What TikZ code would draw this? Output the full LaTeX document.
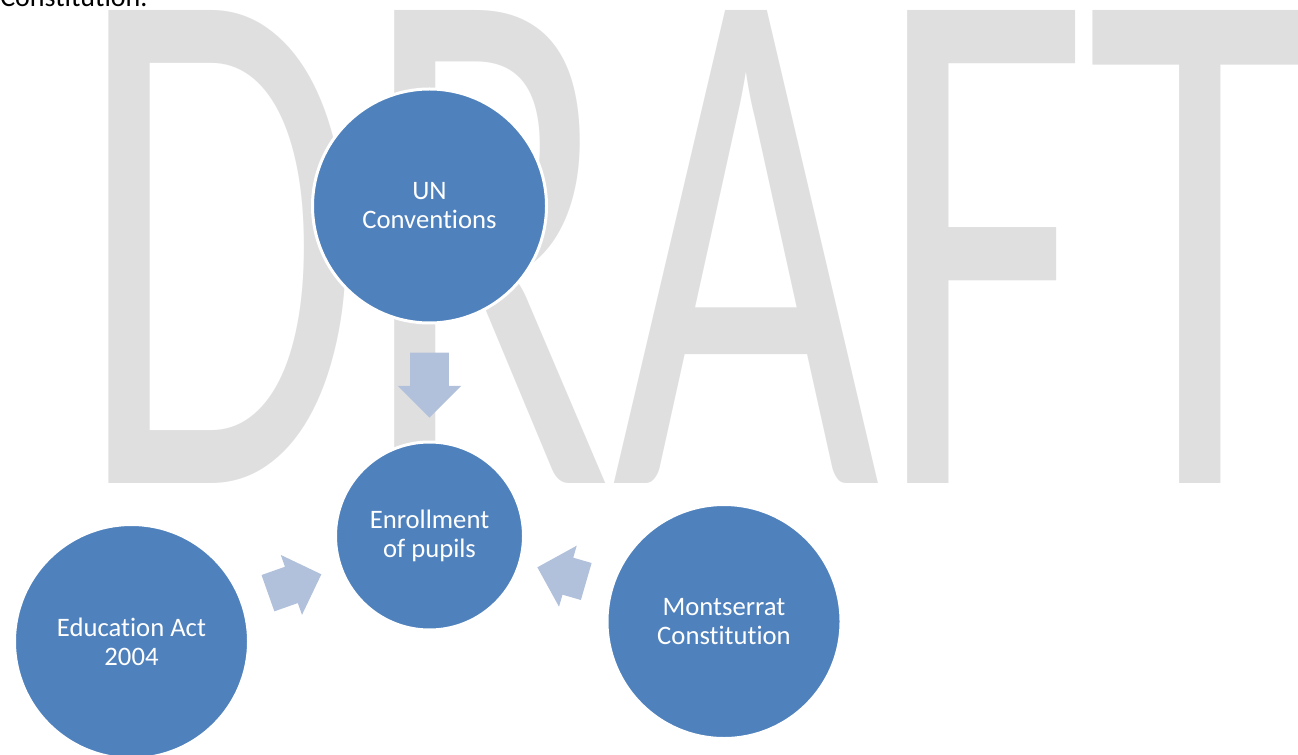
\documentclass[tikz,border=0pt]{standalone}
\usepackage{fontspec}
\usepackage{graphicx}
\setmainfont{Carlito}[Ligatures=NoCommon]
\usetikzlibrary{shapes.arrows}

\definecolor{circleblue}{HTML}{4F81BD}
\definecolor{arrowblue}{HTML}{B2C1DB}
\definecolor{draftgray}{HTML}{DFDFDF}

\tikzset{
  source/.style={circle, fill=circleblue, draw=white, line width=2.25pt,
    minimum size=175.5pt, inner sep=0pt, text=white, align=center,
    font=\fontsize{20}{21.75}\selectfont},
  target/.style={source, minimum size=141pt},
  pointer/.style={single arrow, fill=arrowblue, draw=none, inner sep=0pt,
    text height=28.5pt, text depth=0pt, text width=0pt,
    single arrow head extend=9.4pt, single arrow tip angle=90,
    sloped, allow upside down, pos=0.44}
}

\begin{document}
\begin{tikzpicture}[x=0.75pt,y=-0.75pt]
    \useasboundingbox (0,0) rectangle (1298,755);

    % Wasserzeichen
    \node[anchor=base west, inner sep=0pt, text=draftgray] (draft) at (77,483)
        {\scalebox{0.627}[1]{\fontsize{553}{553}\selectfont DRA\kern-5pt F\kern-1pt T}};

    % Textrest oben links
    \node[anchor=base west, inner sep=0pt, font=\fontsize{21}{25}\selectfont] (prev) at (0,7) {Constitution.};

    % Kreise
    \node[source] (un) at (429.5,206) {UN\\Conventions};
    \node[target] (enr) at (429.5,536) {Enrollment\\of pupils};
    \node[source] (edu) at (131.5,641.5) {Education Act\\2004};
    \node[source] (mont) at (724,621.5) {Montserrat\\Constitution};

    % Pfeile
    \path (un) -- node[pointer, minimum height=48.8pt] {} (enr);
    \path (edu) -- node[pointer, minimum height=42.5pt] {} (enr);
    \path (mont) -- node[pointer, minimum height=38.2pt] {} (enr);
\end{tikzpicture}
\end{document}
